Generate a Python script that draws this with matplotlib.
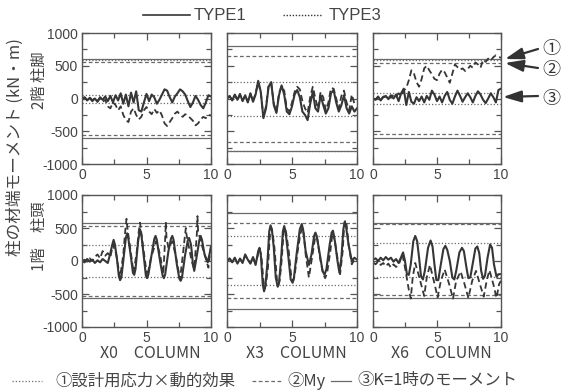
import matplotlib
matplotlib.use('Agg')
import matplotlib.pyplot as plt
from matplotlib.lines import Line2D
from matplotlib.patches import FancyArrowPatch
import numpy as np

# ---------------- data ----------------
t_top = [0.0, 0.2, 0.4, 0.6, 0.8, 1.0, 1.2, 1.4, 1.6, 1.8, 2.0, 2.2, 2.4, 2.6, 2.8, 3.0, 3.2, 3.4, 3.6, 3.8,
         4.0, 4.2, 4.4, 4.6, 4.8, 5.0, 5.2, 5.4, 5.6, 5.8, 6.0, 6.2, 6.4, 6.6, 6.8, 7.0, 7.2, 7.4, 7.6, 7.8,
         8.0, 8.2, 8.4, 8.6, 8.8, 9.0, 9.2, 9.4, 9.6, 9.8, 10.0]

x0_2f_type1 = [0, 20, -30, 10, -40, 0, -50, 20, -20, 30, -40, 40, -60, 50, -30, 80, -80, 60, -120, 90,
               -60, 110, -180, -200, -60, 70, -40, 60, 20, -80, -20, 60, 140, 120, 20, -60, 30, 80, 140, 110,
               60, -40, -130, -60, 40, -20, -100, -150, -60, 50, 30]
x0_2f_type3 = [0, 10, -20, 20, -30, 10, -40, 0, -50, -20, -120, -150, -60, -100, -180, -120, -250, -330, -360, -200,
               -150, -250, -320, -280, -180, -130, -200, -240, -160, -220, -180, -260, -380, -420, -360, -300, -230, -200, -250, -280,
               -240, -260, -300, -340, -410, -380, -320, -280, -300, -250, -260]
x3_2f_type1 = [0, 40, -30, 60, -20, 70, -40, 50, -60, 80, -50, 60, 270, 100, -300, -150, 180, 250, -100, -220,
               50, 200, 60, -200, -240, -120, 60, 130, 20, -200, -250, -330, -80, 100, -150, -200, 50, -100, -230, -150,
               80, 130, -60, -200, -100, 50, -150, -230, -120, -200, -150]
x3_2f_type3 = [0, 30, -20, 50, -30, 60, -30, 40, -50, 70, -40, 80, 250, 80, -280, -120, 200, 240, -80, -200,
               80, 190, 120, -150, -200, -60, 100, 180, 140, -40, -150, -220, 20, 180, 0, -160, 100, 20, -180, -60,
               160, 150, 0, -150, 40, 120, -60, -180, 60, -80, -100]
x6_2f_type1 = [0, -20, 30, -30, 20, 40, -10, 50, 0, 60, -40, 80, 150, -100, 100, -50, -80, 20, -40, 30,
               -60, 40, -20, 120, 60, -40, 30, -60, 40, 100, -20, -80, 30, 120, 40, -50, 20, 80, 20, -60,
               40, 110, 60, -20, -70, 0, 80, 20, -60, 130, 150]
x6_2f_type3 = [0, -10, 20, -20, 30, 20, 40, 10, 60, 30, 80, 40, 120, 160, 280, 430, 380, 250, 180, 300,
               460, 500, 430, 370, 300, 280, 380, 440, 400, 320, 240, 380, 520, 480, 440, 460, 420, 450, 500, 470,
               550, 520, 470, 590, 560, 610, 580, 630, 660, 640, 620]

x0_1f_t1 = [0, 0.2, 0.4, 0.6, 0.8, 1.0, 1.2, 1.4, 1.6, 1.8, 2.0, 2.2, 2.35, 2.45, 2.55, 2.7, 2.85, 2.95, 3.05, 3.2,
            3.4, 3.5, 3.6, 3.8, 3.95, 4.05, 4.15, 4.35, 4.5, 4.6, 4.8, 4.95, 5.05, 5.15, 5.4, 5.6, 5.7, 5.8, 6.05, 6.25,
            6.35, 6.45, 6.7, 6.9, 7.0, 7.1, 7.35, 7.55, 7.65, 7.75, 8.0, 8.2, 8.3, 8.45, 8.6, 8.7, 8.85, 9.1, 9.2, 9.3,
            9.5, 9.75, 9.9, 10.0]
x0_1f_v1 = [0, -20, 30, -10, 20, -30, 10, -20, 30, 0, -30, 120, 250, 320, 250, 50, -220, -290, -250, 0,
            350, 420, 330, 50, -180, -210, -120, 300, 480, 400, 50, -220, -260, -200, 100, 330, 380, 320, 0, -220,
            -260, -200, 150, 340, 380, 320, -50, -270, -300, -250, 100, 310, 350, 250, -50, -150, 20, 320, 380, 320,
            100, -20, 120, 200]
x0_1f_t3 = [0, 0.2, 0.4, 0.6, 0.8, 1.0, 1.2, 1.4, 1.6, 1.8, 2.0, 2.2, 2.4, 2.65, 2.95, 3.2, 3.35, 3.45, 3.55, 3.7,
            4.0, 4.25, 4.4, 4.5, 4.6, 4.75, 5.05, 5.35, 5.75, 6.05, 6.3, 6.45, 6.5, 6.55, 6.7, 7.0, 7.3, 7.6, 7.85, 8.0,
            8.05, 8.1, 8.25, 8.5, 8.7, 8.9, 8.95, 9.0, 9.2, 9.5, 9.8, 10.0]
x0_1f_v3 = [0, 20, -10, 40, 0, 60, 100, 40, 150, 80, 120, 60, 250, 100, -250, 100, 450, 640, 450, 250,
            -180, 150, 450, 580, 420, 200, -240, 50, 300, 100, -200, 350, 590, 350, 200, 300, 50, -280, 150, 420,
            500, 400, 250, 0, -120, 400, 680, 450, 300, 100, -100, 250]

x3_1f_t1 = [0, 0.2, 0.4, 0.6, 0.8, 1.0, 1.2, 1.4, 1.6, 1.8, 2.0, 2.2, 2.4, 2.5, 2.6, 2.75, 2.85, 2.95, 3.1, 3.25,
            3.35, 3.45, 3.6, 3.75, 3.9, 4.0, 4.15, 4.3, 4.4, 4.5, 4.7, 4.9, 5.05, 5.15, 5.35, 5.6, 5.75, 5.85, 6.05, 6.3,
            6.5, 6.7, 6.8, 6.9, 7.1, 7.35, 7.5, 7.65, 7.9, 8.05, 8.15, 8.3, 8.5, 8.65, 8.8, 8.95, 9.05, 9.15, 9.35, 9.6,
            9.8, 10.0]
x3_1f_v1 = [0, 40, -20, 50, -40, 30, -30, 100, 20, -40, 60, -60, 150, 200, 100, -350, -460, -380, -50, 450,
            540, 480, 200, -250, -390, -330, 0, 450, 530, 450, 100, -280, -330, -250, 100, 480, 560, 480, 150, -60,
            100, 380, 430, 380, 150, -150, -210, -120, 250, 430, 460, 300, 0, -180, 50, 480, 590, 530, 250, 0,
            50, 20]
x3_1f_t3 = [0, 0.2, 0.4, 0.6, 0.8, 1.0, 1.2, 1.4, 1.6, 1.8, 2.0, 2.2, 2.5, 2.65, 2.8, 2.9, 3.0, 3.15, 3.3, 3.4,
            3.5, 3.65, 3.85, 3.95, 4.05, 4.2, 4.35, 4.45, 4.55, 4.75, 4.95, 5.1, 5.2, 5.4, 5.65, 5.8, 5.9, 6.05, 6.3, 6.5,
            6.75, 6.85, 6.95, 7.15, 7.4, 7.55, 7.7, 7.95, 8.1, 8.15, 8.3, 8.45, 8.7, 8.9, 9.0, 9.1, 9.2, 9.35, 9.6, 9.8,
            10.0]
x3_1f_v3 = [0, 30, -10, 40, -30, 40, -20, 80, 30, -30, 50, -40, 180, 80, -300, -420, -350, -100, 400, 500,
            430, 200, -300, -360, -300, 0, 420, 500, 430, 150, -250, -300, -230, 100, 420, 500, 420, 100, -250, 0,
            320, 380, 330, 50, -200, -260, -180, 150, 400, 430, 300, 100, -200, 150, 500, 620, 550, 250, -50, 20,
            0]

x6_1f_t1 = [0, 0.2, 0.4, 0.6, 0.8, 1.0, 1.2, 1.4, 1.6, 1.8, 2.0, 2.2, 2.35, 2.5, 2.65, 2.8, 2.95, 3.15, 3.3, 3.45,
            3.6, 3.75, 3.9, 4.05, 4.3, 4.5, 4.65, 4.8, 4.95, 5.1, 5.3, 5.5, 5.65, 5.8, 6.0, 6.2, 6.35, 6.5, 6.75, 6.95,
            7.1, 7.3, 7.45, 7.6, 7.8, 8.0, 8.15, 8.3, 8.45, 8.6, 8.75, 8.95, 9.15, 9.3, 9.45, 9.65, 9.8, 10.0]
x6_1f_v1 = [20, 40, 0, 50, 10, 60, 20, 50, -10, 30, -30, 60, 130, 0, -200, -210, -50, 300, 380, 300,
            50, -230, -280, -150, 200, 310, 220, -50, -290, -290, -50, 180, 230, 170, 0, -250, -280, -150, 130, 200,
            150, -100, -260, -250, -30, 190, 220, 120, -150, -270, -220, 50, 250, 200, -50, -240, -200, -200]
x6_1f_t3 = [0, 0.2, 0.4, 0.6, 0.8, 1.0, 1.2, 1.4, 1.6, 1.8, 2.0, 2.3, 2.5, 2.8, 2.95, 3.1, 3.3, 3.55, 3.85, 4.0,
            4.2, 4.45, 4.75, 5.05, 5.3, 5.6, 5.95, 6.25, 6.5, 6.85, 7.15, 7.45, 7.75, 8.05, 8.35, 8.65, 8.9, 9.1, 9.4, 9.65,
            9.85, 10.0]
x6_1f_v3 = [-20, -50, -10, -60, -30, -80, -40, -100, -50, -90, -60, 100, -100, -440, -570, -250, -30, -200, -420, -530,
            -250, -60, -300, -550, -300, -130, -350, -570, -300, -160, -350, -560, -300, -150, -350, -540, -280, -140, -350, -560,
            -350, -300]

series_type1 = [(t_top, x0_2f_type1), (t_top, x3_2f_type1), (t_top, x6_2f_type1),
                (x0_1f_t1, x0_1f_v1), (x3_1f_t1, x3_1f_v1), (x6_1f_t1, x6_1f_v1)]
series_type3 = [(t_top, x0_2f_type3), (t_top, x3_2f_type3), (t_top, x6_2f_type3),
                (x0_1f_t3, x0_1f_v3), (x3_1f_t3, x3_1f_v3), (x6_1f_t3, x6_1f_v3)]

# horizontal reference levels per panel
ref_solid = [[600, -600], [800, -795], [600, -600], [580, -567], [720, -720], [582, -567]]
ref_dashed = [[550, -550], [650, -667], [548, -549], [530, -531], [582, -567], [556, -516]]
ref_dotted = [[590, 60, -75], [250, -270, -800], [590, 77, -77], [250, -235], [377, -363], [275, -235]]

column_labels = ['X0　COLUMN', 'X3　COLUMN', 'X6　COLUMN']
row_labels = ['2階 柱脚', '1階　柱頭']
ylabel = '柱の材端モーメント (kN・m)'
yticks = [-1000, -500, 0, 500, 1000]
xticks = [0, 5, 10]

# ---------------- layout ----------------
W, H = 561, 390
fig = plt.figure(figsize=(W / 100, H / 100), dpi=100)
fig.patch.set_facecolor('white')

def fx(x):
    return x / W

def fy(y):
    return 1 - y / H

LAT = ['Liberation Sans', 'DejaVu Sans']
CJK = ['Noto Sans CJK JP', 'DejaVu Sans']

col_x = [(82, 211), (227, 357), (373, 501)]
row_y = [(33, 164), (195, 327)]

INK = '#363636'
REF = '#6a6a6a'
TXT = '#444444'

axes = []
for r in range(2):
    for c in range(3):
        x0, x1 = col_x[c]
        y0, y1 = row_y[r]
        ax = fig.add_axes([fx(x0), fy(y1), (x1 - x0) / W, (y1 - y0) / H])
        axes.append(ax)

for i, ax in enumerate(axes):
    c = i % 3
    ax.set_xlim(0, 10)
    ax.set_ylim(-1000, 1000)
    for v in ref_solid[i]:
        ax.axhline(v, color=REF, lw=0.9, ls='-')
    for v in ref_dashed[i]:
        ax.axhline(v, color=REF, lw=0.9, ls=(0, (3, 2)))
    for v in ref_dotted[i]:
        ax.axhline(v, color=REF, lw=0.9, ls=(0, (1, 1.6)))
    t3, v3 = series_type3[i]
    ax.plot(t3, v3, color=INK, lw=1.3, ls=(0, (3.5, 2)))
    t1, v1 = series_type1[i]
    ax.plot(t1, v1, color=INK, lw=1.5, ls='-')

    ax.set_xticks(xticks)
    ax.set_xticks([2.5, 7.5], minor=True)
    ax.set_yticks(yticks)
    ax.set_yticks([-750, -250, 250, 750], minor=True)
    ax.tick_params(which='both', direction='in', top=True, right=True, color='#555555', width=0.9)
    ax.tick_params(which='major', length=5, pad=3, labelsize=10, labelcolor=TXT)
    ax.tick_params(which='minor', length=3.5)
    ax.set_xticklabels([str(v) for v in xticks], fontfamily=LAT)
    if c == 0:
        ax.set_yticklabels([str(v) for v in yticks], fontfamily=LAT)
    else:
        ax.tick_params(labelleft=False)
    for s in ax.spines.values():
        s.set_color('#555555')
        s.set_linewidth(1.0)

# column labels
for c in range(3):
    x0, x1 = col_x[c]
    fig.text(fx((x0 + x1) / 2 + 4), fy(354), column_labels[c], ha='center', va='center',
             fontsize=11.5, family=CJK, color=TXT)

# y label and row labels
fig.text(fx(15), fy(147), ylabel, rotation=90, ha='center', va='center', fontsize=12,
         family=CJK, color=TXT)
fig.text(fx(39), fy(80), row_labels[0], rotation=90, ha='center', va='center', fontsize=11,
         family=CJK, color=TXT)
fig.text(fx(39), fy(236), row_labels[1], rotation=90, ha='center', va='center', fontsize=11,
         family=CJK, color=TXT)

# top legend
fig.add_artist(Line2D([fx(143), fx(190)], [fy(15), fy(15)], color=INK, lw=1.2))
fig.text(fx(194), fy(15), 'TYPE1', ha='left', va='center', fontsize=12, family=LAT, color=TXT)
fig.add_artist(Line2D([fx(283), fx(322)], [fy(15), fy(15)], color=INK, lw=1.0, ls=(0, (1, 1.2))))
fig.text(fx(329), fy(15), 'TYPE3', ha='left', va='center', fontsize=12, family=LAT, color=TXT)

# bottom legend
ly = 381
fig.add_artist(Line2D([fx(12), fx(42)], [fy(ly), fy(ly)], color=REF, lw=0.9, ls=(0, (1, 1.6))))
fig.text(fx(55), fy(ly), '①設計用応力×動的効果', ha='left', va='center', fontsize=11.8, family=CJK, color=TXT)
fig.add_artist(Line2D([fx(252), fx(282)], [fy(ly), fy(ly)], color=REF, lw=0.9, ls=(0, (3, 2))))
fig.text(fx(287), fy(ly), '②My', ha='left', va='center', fontsize=11.8, family=CJK, color=TXT)
fig.add_artist(Line2D([fx(331), fx(351)], [fy(ly), fy(ly)], color=REF, lw=0.9))
fig.text(fx(357), fy(ly), '③K=1時のモーメント', ha='left', va='center', fontsize=11.8, family=CJK, color=TXT)

# arrows on the right
arrows = [((538, 49), (505, 59)), ((538, 68), (505, 63)), ((538, 96), (503, 97))]
for (xa, ya), (xb, yb) in arrows:
    fig.add_artist(FancyArrowPatch((fx(xa), fy(ya)), (fx(xb), fy(yb)), transform=fig.transFigure,
                                   arrowstyle='-|>,head_length=1.1,head_width=0.35', mutation_scale=10,
                                   color='#333333', lw=1.6, shrinkA=0, shrinkB=0))
for txt, yy in [('①', 49), ('②', 70), ('③', 99)]:
    fig.text(fx(551), fy(yy), txt, ha='center', va='center', fontsize=13, family=CJK, color='#333333')

fig.savefig('out.png', dpi=100, facecolor='white')
